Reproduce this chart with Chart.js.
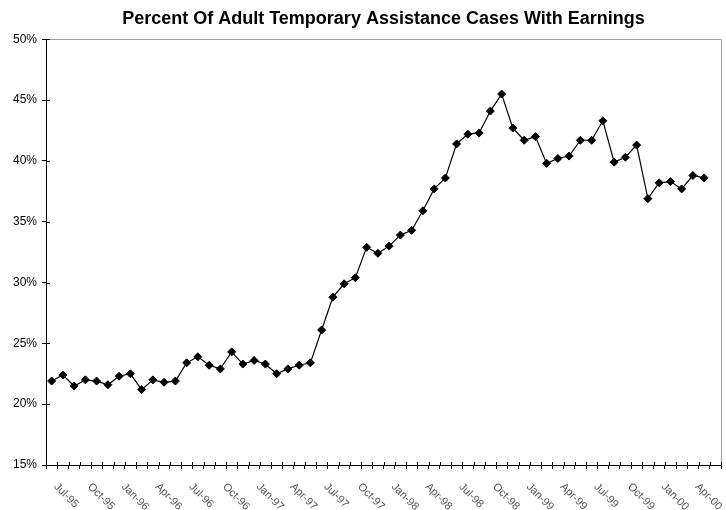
<!DOCTYPE html>
<html>
<head>
<meta charset="utf-8">
<script src="https://cdn.jsdelivr.net/npm/chart.js@4/dist/chart.umd.min.js"></script>
<style>
  html, body { margin: 0; padding: 0; background: #ffffff; }
  canvas { display: block; }
</style>
</head>
<body>
<canvas id="chart" width="726" height="510"></canvas>
<script>
// Monthly categories, July 1995 through June 2000
const months = [
  'Jul-95','Aug-95','Sep-95','Oct-95','Nov-95','Dec-95',
  'Jan-96','Feb-96','Mar-96','Apr-96','May-96','Jun-96',
  'Jul-96','Aug-96','Sep-96','Oct-96','Nov-96','Dec-96',
  'Jan-97','Feb-97','Mar-97','Apr-97','May-97','Jun-97',
  'Jul-97','Aug-97','Sep-97','Oct-97','Nov-97','Dec-97',
  'Jan-98','Feb-98','Mar-98','Apr-98','May-98','Jun-98',
  'Jul-98','Aug-98','Sep-98','Oct-98','Nov-98','Dec-98',
  'Jan-99','Feb-99','Mar-99','Apr-99','May-99','Jun-99',
  'Jul-99','Aug-99','Sep-99','Oct-99','Nov-99','Dec-99',
  'Jan-00','Feb-00','Mar-00','Apr-00','May-00','Jun-00'
];

// Percent of adult cases with earnings (last month not yet reported)
const earningsPct = [
  21.9, 22.4, 21.5, 22.0, 21.9, 21.6,
  22.3, 22.5, 21.2, 22.0, 21.8, 21.9,
  23.4, 23.9, 23.2, 22.9, 24.3, 23.3,
  23.6, 23.3, 22.5, 22.9, 23.2, 23.4,
  26.1, 28.8, 29.9, 30.4, 32.9, 32.4,
  33.0, 33.9, 34.3, 35.9, 37.7, 38.6,
  41.4, 42.2, 42.3, 44.1, 45.5, 42.7,
  41.7, 42.0, 39.8, 40.2, 40.4, 41.7,
  41.7, 43.3, 39.9, 40.3, 41.3, 36.9,
  38.2, 38.3, 37.7, 38.8, 38.6, null
];

// Value axis ticks
const yTickValues = [15, 20, 25, 30, 35, 40, 45, 50];

// Every third month gets a label on the category axis
const labelEvery = 3;

const FONT = '"Liberation Sans", Arial, Helvetica, sans-serif';

// Tick marks that cross the axes, plot frame, and slanted month labels
const axisDecor = {
  id: 'axisDecor',
  afterDraw(chart) {
    const { ctx, chartArea: a, scales } = chart;
    const xs = scales.x, ys = scales.y;
    ctx.save();

    // light frame on the top and right of the plot
    ctx.strokeStyle = '#a0a0a0';
    ctx.lineWidth = 1;
    ctx.beginPath();
    ctx.moveTo(Math.round(a.left) + 0.5, Math.round(a.top) + 0.5);
    ctx.lineTo(Math.round(a.right) + 0.5, Math.round(a.top) + 0.5);
    ctx.lineTo(Math.round(a.right) + 0.5, Math.round(a.bottom) + 0.5);
    ctx.stroke();

    // inner half of the tick marks
    ctx.strokeStyle = '#000000';
    ctx.beginPath();
    ys.ticks.forEach(t => {
      const y = Math.round(ys.getPixelForValue(t.value)) + 0.5;
      ctx.moveTo(a.left, y);
      ctx.lineTo(a.left + 4, y);
    });
    for (let i = 0; i <= months.length; i++) {
      const x = Math.round(xs.getPixelForValue(i - 0.5)) + 0.5;
      ctx.moveTo(x, a.bottom - 3);
      ctx.lineTo(x, a.bottom);
    }
    ctx.stroke();

    // month labels, slanted downward
    ctx.fillStyle = '#555555';
    ctx.font = '11px ' + FONT;
    ctx.textAlign = 'left';
    ctx.textBaseline = 'middle';
    months.forEach((m, i) => {
      if (i % labelEvery !== 0) return;
      const x = xs.getPixelForValue(i);
      ctx.save();
      ctx.translate(x + 4, a.bottom + 20);
      ctx.rotate(Math.PI / 4);
      ctx.fillText(m, 0, 0);
      ctx.restore();
    });
    ctx.restore();
  }
};

new Chart(document.getElementById('chart'), {
  type: 'line',
  data: {
    labels: months,
    datasets: [{
      label: 'Percent with earnings',
      data: earningsPct,
      borderColor: '#000000',
      backgroundColor: '#000000',
      borderWidth: 1.2,
      pointStyle: 'rectRot',
      pointRadius: 4,
      pointBorderWidth: 1,
      pointBackgroundColor: '#000000',
      pointBorderColor: '#000000',
      tension: 0,
      spanGaps: false
    }]
  },
  options: {
    responsive: false,
    animation: false,
    devicePixelRatio: 1,
    layout: { padding: { top: 0, left: 0, right: 4, bottom: 0 } },
    plugins: {
      legend: { display: false },
      tooltip: { enabled: false },
      title: {
        display: true,
        fullSize: false,
        text: 'Percent Of Adult Temporary Assistance Cases With Earnings',
        color: '#000000',
        font: { family: FONT, size: 18, weight: 'bold', lineHeight: 1.2 },
        padding: { top: 8, bottom: 9.7 }
      }
    },
    scales: {
      x: {
        type: 'category',
        offset: true,
        grid: {
          display: true,
          offset: true,
          drawOnChartArea: false,
          drawTicks: true,
          tickLength: 4,
          color: '#000000'
        },
        border: { display: true, color: '#000000', width: 1 },
        ticks: { display: false, autoSkip: false },
        afterFit(scale) { scale.height = 45; }
      },
      y: {
        min: 15,
        max: 50,
        afterBuildTicks(scale) {
          scale.ticks = yTickValues.map(v => ({ value: v }));
        },
        grid: {
          display: true,
          drawOnChartArea: false,
          drawTicks: true,
          tickLength: 4,
          color: '#000000'
        },
        border: { display: true, color: '#000000', width: 1 },
        ticks: {
          color: '#000000',
          padding: 5,
          font: { family: FONT, size: 12 },
          callback: v => v + '%'
        },
        afterFit(scale) { scale.width = 46; }
      }
    }
  },
  plugins: [axisDecor]
});
</script>
</body>
</html>
